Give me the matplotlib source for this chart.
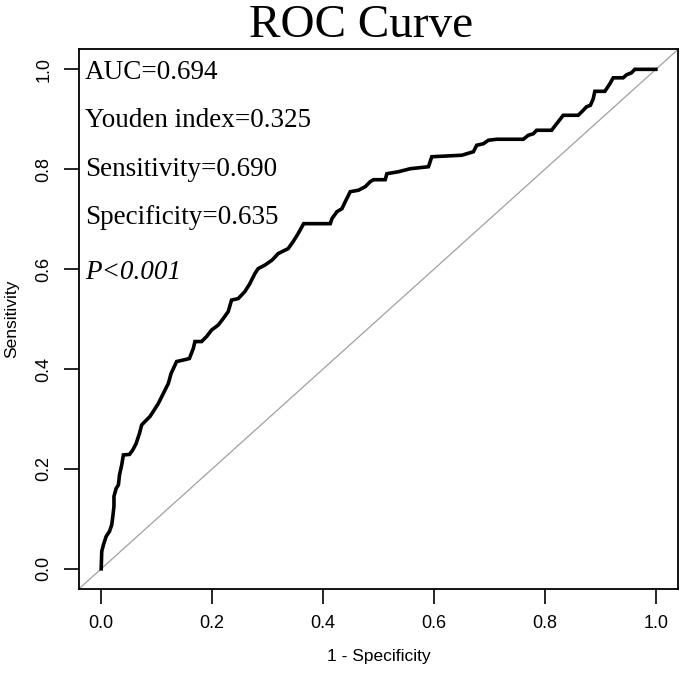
import matplotlib
matplotlib.use("Agg")
import matplotlib.pyplot as plt

# ROC curve points (1 - specificity, sensitivity)
fpr = [0.0, 0.001, 0.004, 0.009, 0.015, 0.019, 0.021, 0.023, 0.023, 0.027,
       0.031, 0.033, 0.037, 0.040, 0.051, 0.057, 0.063, 0.069, 0.073, 0.079,
       0.088, 0.095, 0.103, 0.112, 0.121, 0.126, 0.136, 0.148, 0.159, 0.166,
       0.169, 0.181, 0.190, 0.199, 0.211, 0.220, 0.229, 0.235, 0.247, 0.259,
       0.268, 0.277, 0.283, 0.295, 0.308, 0.319, 0.326, 0.337, 0.346, 0.355,
       0.365, 0.413, 0.416, 0.425, 0.434, 0.440, 0.449, 0.464, 0.476, 0.485,
       0.491, 0.512, 0.515, 0.536, 0.557, 0.590, 0.596, 0.650, 0.659, 0.671,
       0.677, 0.689, 0.698, 0.713, 0.761, 0.770, 0.779, 0.785, 0.812, 0.821,
       0.833, 0.860, 0.869, 0.875, 0.882, 0.887, 0.890, 0.908, 0.911, 0.917,
       0.923, 0.941, 0.947, 0.956, 0.962, 1.0]
tpr = [0.0, 0.035, 0.048, 0.065, 0.075, 0.088, 0.105, 0.125, 0.145, 0.161,
       0.168, 0.188, 0.208, 0.228, 0.229, 0.238, 0.251, 0.271, 0.288, 0.295,
       0.305, 0.317, 0.331, 0.351, 0.371, 0.391, 0.415, 0.418, 0.421, 0.441,
       0.455, 0.455, 0.465, 0.478, 0.488, 0.501, 0.515, 0.538, 0.541, 0.555,
       0.571, 0.591, 0.601, 0.608, 0.618, 0.631, 0.635, 0.641, 0.655, 0.671,
       0.691, 0.691, 0.701, 0.715, 0.721, 0.735, 0.755, 0.758, 0.765, 0.775,
       0.779, 0.779, 0.791, 0.795, 0.801, 0.805, 0.825, 0.828, 0.831, 0.835,
       0.848, 0.851, 0.858, 0.860, 0.860, 0.868, 0.871, 0.878, 0.878, 0.891,
       0.908, 0.908, 0.918, 0.925, 0.928, 0.941, 0.956, 0.956, 0.961, 0.971,
       0.983, 0.983, 0.989, 0.993, 1.0, 1.0]

stats_text = ["AUC=0.694", "Youden index=0.325", "Sensitivity=0.690",
              "Specificity=0.635", "P<0.001"]
text_y = [0.980, 0.884, 0.786, 0.690, 0.580]
ticks = [0.0, 0.2, 0.4, 0.6, 0.8, 1.0]

fig = plt.figure(figsize=(6.87, 6.76), dpi=100)
ax = fig.add_axes([0.115, 0.129, 0.872, 0.798])

# reference diagonal across the whole box, like abline in R
ax.plot([-0.04, 1.04], [-0.04, 1.04], color="#a0a0a0", lw=0.9, zorder=1)
ax.plot(fpr, tpr, color="black", lw=2.6, solid_joinstyle="miter", zorder=2)

ax.set_xlim(-0.04, 1.04)
ax.set_ylim(-0.04, 1.04)
ax.set_xticks(ticks)
ax.set_yticks(ticks)
ax.set_xticklabels([f"{t:.1f}" for t in ticks], family="Liberation Sans", fontsize=13)
ax.set_yticklabels([f"{t:.1f}" for t in ticks], family="Liberation Sans", fontsize=13,
                   rotation=90, va="center")
ax.tick_params(direction="out", length=11, width=1.2, pad=8)
for s in ax.spines.values():
    s.set_linewidth(1.3)

ax.set_xlabel("1 - Specificity", family="Liberation Sans", fontsize=12.5, labelpad=12)
ax.set_ylabel("Sensitivity", family="Liberation Sans", fontsize=12.5, labelpad=12)

for t, yy in zip(stats_text, text_y):
    if t.startswith("P"):
        ax.text(-0.029, yy, t, family="Liberation Serif", fontsize=19.5,
                style="italic", va="baseline", ha="left")
    else:
        ax.text(-0.029, yy, t, family="Liberation Serif", fontsize=19.5,
                va="baseline", ha="left")

fig.text(0.525, 0.962, "ROC Curve", family="Liberation Serif", fontsize=34,
         ha="center", va="center")

fig.savefig("out.png", dpi=100, facecolor="white")
